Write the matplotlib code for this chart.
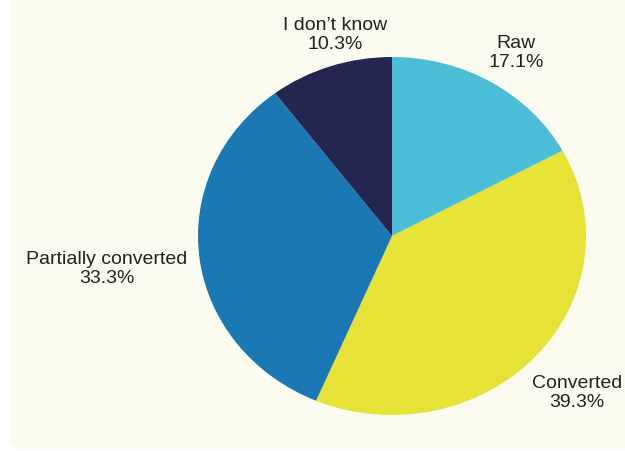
import numpy as np
import matplotlib.pyplot as plt
from matplotlib.patches import FancyBboxPatch

# data
categories = ["Raw", "Converted", "Partially converted", "I don\u2019t know"]
shares = [17.1, 39.3, 33.3, 10.3]
colors = ["#4bbdd7", "#e6e236", "#1a78b4", "#242551"]
# label centres in pixels (x, y from top)
label_pos = [(516, 53), (577, 393), (107, 269), (335, 35)]

W, H = 625, 452
fig = plt.figure(figsize=(W / 100, H / 100), dpi=100)
fig.patch.set_facecolor("white")

# cream panel, rounded bottom-left corner
bg = FancyBboxPatch((10 / W, 1 / H), (W + 20) / W, (H + 20) / H,
                    boxstyle="round,pad=0,rounding_size=0.028",
                    transform=fig.transFigure, facecolor="#fbfbf0",
                    edgecolor="none", zorder=-5)
fig.patches.append(bg)

cx, cy, rx, ry = 392, 237, 194, 179
ax = fig.add_axes([(cx - rx) / W, (H - cy - ry) / H, 2 * rx / W, 2 * ry / H])
ax.set_zorder(2)
ax.pie(shares, colors=colors, startangle=90, counterclock=False,
       radius=1, center=(0, 0), frame=False,
       wedgeprops=dict(linewidth=0))
ax.set_aspect("auto")
ax.set_xlim(-1, 1)
ax.set_ylim(-1, 1)
ax.set_axis_off()

for name, val, (x, y) in zip(categories, shares, label_pos):
    fig.text(x / W, 1 - y / H, f"{name}\n{val:.1f}%", ha="center", va="center",
             fontsize=14, family="Liberation Sans", color="#222222",
             linespacing=1.1)

fig.savefig("out.png", dpi=100)
